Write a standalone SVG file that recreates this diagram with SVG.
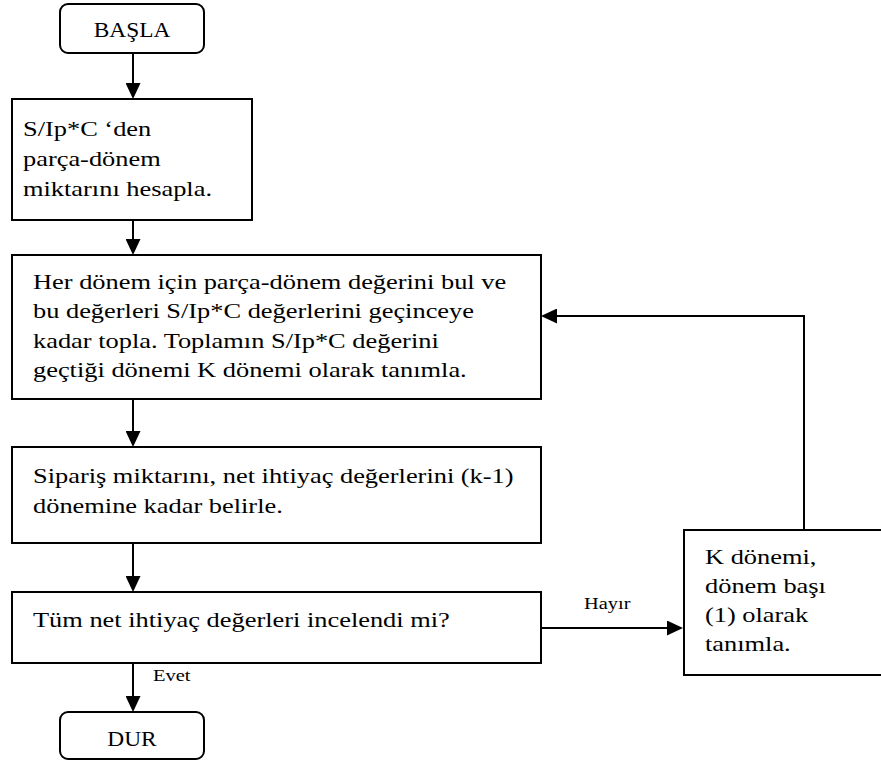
<svg xmlns="http://www.w3.org/2000/svg" width="881" height="763" viewBox="0 0 881 763">
  <style>
    .box { fill: #fff; stroke: #000; stroke-width: 2; }
    .txt { font-family: "Liberation Serif", "Times New Roman", serif; font-size: 22px; fill: #000; }
    .term { font-family: "Liberation Serif", "Times New Roman", serif; font-size: 20px; fill: #000; text-anchor: middle; }
    .lbl { font-family: "Liberation Serif", "Times New Roman", serif; font-size: 17px; fill: #000; }
    .edge { fill: none; stroke: #000; stroke-width: 2; marker-end: url(#arrow); }
  </style>
  <defs>
    <marker id="arrow" viewBox="0 0 16 15" refX="12" refY="7.5" markerWidth="16" markerHeight="15" markerUnits="userSpaceOnUse" orient="auto">
      <path d="M0,0 L16,7.5 L0,15 Z" fill="#000"/>
    </marker>
  </defs>

  <rect width="881" height="763" fill="#fff"/>

  <!-- connectors -->
  <g id="connectors">
    <path class="edge" d="M133,53 V95"/>
    <path class="edge" d="M133,220 V251"/>
    <path class="edge" d="M133,399 V443"/>
    <path class="edge" d="M133,543 V588"/>
    <path class="edge" d="M133,663 V708"/>
    <path class="edge" d="M541,628 H679"/>
    <path class="edge" d="M804,530 V316 H545"/>
  </g>

  <!-- start -->
  <g id="start">
    <rect class="box" x="60" y="4" width="144" height="49" rx="8" ry="8"/>
    <text class="term" transform="translate(132,37) scale(1.17,1)">BAŞLA</text>
  </g>

  <!-- step 1 -->
  <g id="calc">
    <rect class="box" x="12" y="99" width="240" height="121"/>
    <text class="txt" transform="translate(23,136) scale(1.2,1)">
      <tspan x="0" y="0">S/Ip*C ‘den</tspan>
      <tspan x="0" y="30">parça-dönem</tspan>
      <tspan x="0" y="60">miktarını hesapla.</tspan>
    </text>
  </g>

  <!-- step 2 -->
  <g id="sum">
    <rect class="box" x="12" y="255" width="529" height="144"/>
    <text class="txt" transform="translate(33,289) scale(1.2,1)">
      <tspan x="0" y="0">Her dönem için parça-dönem değerini bul ve</tspan>
      <tspan x="0" y="29.5">bu değerleri S/Ip*C değerlerini geçinceye</tspan>
      <tspan x="0" y="59">kadar topla. Toplamın  S/Ip*C değerini</tspan>
      <tspan x="0" y="88.5">geçtiği dönemi K dönemi olarak tanımla.</tspan>
    </text>
  </g>

  <!-- step 3 -->
  <g id="order">
    <rect class="box" x="12" y="447" width="529" height="96"/>
    <text class="txt" transform="translate(33,483) scale(1.2,1)">
      <tspan x="0" y="0">Sipariş miktarını, net ihtiyaç değerlerini (k-1)</tspan>
      <tspan x="0" y="30">dönemine kadar belirle.</tspan>
    </text>
  </g>

  <!-- decision -->
  <g id="check">
    <rect class="box" x="12" y="592" width="529" height="71"/>
    <text class="txt" transform="translate(33,627) scale(1.2,1)">Tüm net ihtiyaç değerleri incelendi mi?</text>
  </g>

  <!-- reset period -->
  <g id="reset">
    <rect class="box" x="684" y="530" width="210" height="145"/>
    <text class="txt" transform="translate(705,564) scale(1.2,1)">
      <tspan x="0" y="0">K dönemi,</tspan>
      <tspan x="0" y="29.5">dönem başı</tspan>
      <tspan x="0" y="58.5">(1) olarak</tspan>
      <tspan x="0" y="87.5">tanımla.</tspan>
    </text>
  </g>

  <!-- branch labels -->
  <g id="labels">
    <text class="lbl" transform="translate(584,609) scale(1.2,1)">Hayır</text>
    <text class="lbl" transform="translate(153,681) scale(1.2,1)">Evet</text>
  </g>

  <!-- end -->
  <g id="end">
    <rect class="box" x="60" y="712" width="144" height="47" rx="8" ry="8"/>
    <text class="term" transform="translate(132,746) scale(1.17,1)">DUR</text>
  </g>
</svg>
